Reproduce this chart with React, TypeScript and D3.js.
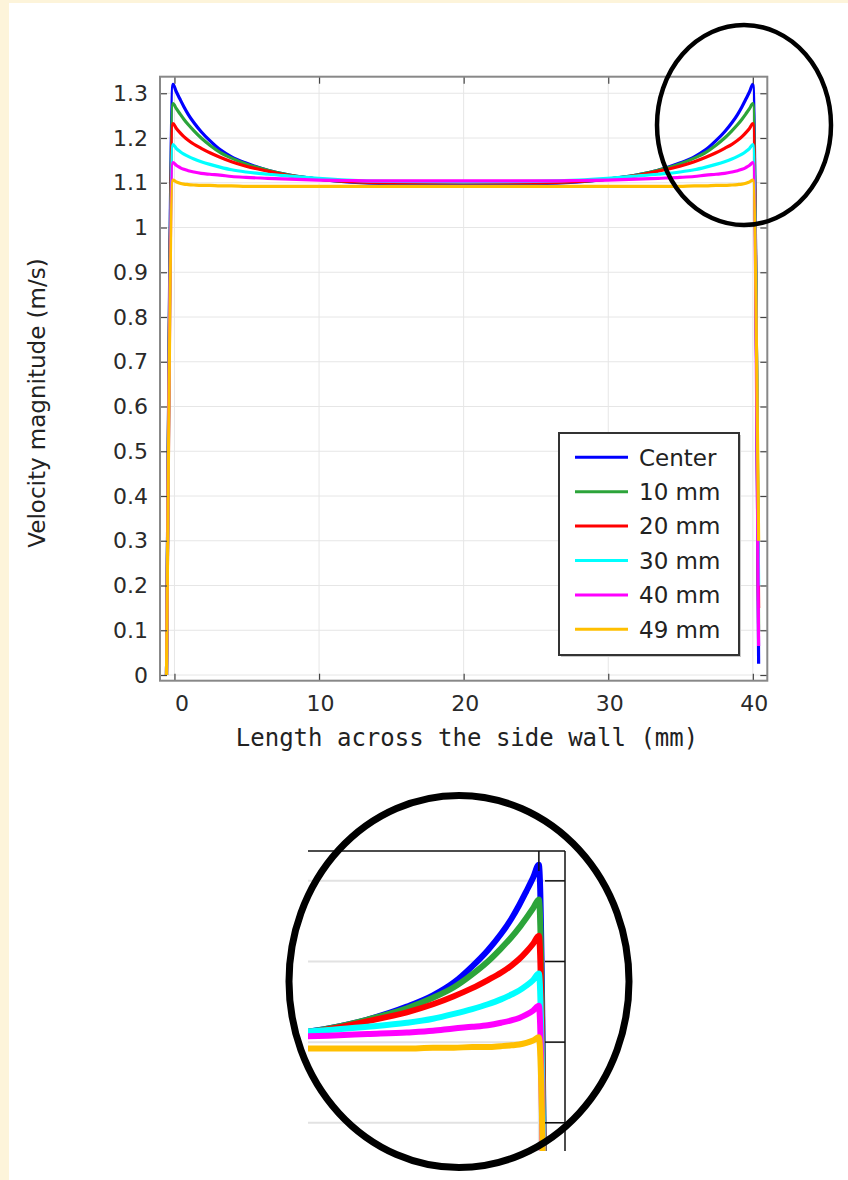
import React, { useEffect, useRef } from "react";
import * as d3 from "d3";

// positions along the wall (mm), shared by all series
const xPositions = [
  -0.55, -0.1, 0.12, 0.38, 0.65, 0.95, 1.35, 1.85, 2.45, 3.15, 3.95, 4.95, 6.45, 7.95, 9.95, 11.95, 14.95,
  20,
  24.95, 27.95, 29.95, 31.95, 33.45, 34.95, 35.95, 36.75, 37.45, 38.05, 38.55, 38.95, 39.25, 39.52, 39.78, 40,
  40.4,
];

const centerValues = [
  0, 1.32, 1.304, 1.287, 1.27, 1.253, 1.234, 1.214, 1.194, 1.174, 1.158, 1.144, 1.128, 1.117, 1.108, 1.102, 1.098,
  1.097,
  1.098, 1.102, 1.108, 1.117, 1.128, 1.144, 1.158, 1.174, 1.194, 1.214, 1.234, 1.253, 1.27, 1.287, 1.304, 1.32,
  0.025,
];
const mm10Values = [
  0, 1.277, 1.266, 1.254, 1.242, 1.23, 1.216, 1.2, 1.184, 1.168, 1.155, 1.142, 1.128, 1.117, 1.108, 1.103, 1.1,
  1.1,
  1.1, 1.103, 1.108, 1.117, 1.128, 1.142, 1.155, 1.168, 1.184, 1.2, 1.216, 1.23, 1.242, 1.254, 1.266, 1.277,
  0.1,
];
const mm20Values = [
  0, 1.232, 1.222, 1.212, 1.203, 1.195, 1.186, 1.177, 1.167, 1.157, 1.147, 1.137, 1.126, 1.116, 1.108, 1.103, 1.1,
  1.1,
  1.1, 1.103, 1.108, 1.116, 1.126, 1.137, 1.147, 1.157, 1.167, 1.177, 1.186, 1.195, 1.203, 1.212, 1.222, 1.232,
  0.15,
];
const mm30Values = [
  0, 1.185, 1.177, 1.17, 1.164, 1.159, 1.153, 1.147, 1.141, 1.135, 1.129, 1.124, 1.119, 1.115, 1.11, 1.106, 1.103,
  1.102,
  1.103, 1.106, 1.11, 1.115, 1.119, 1.124, 1.129, 1.135, 1.141, 1.147, 1.153, 1.159, 1.164, 1.17, 1.177, 1.185,
  0.2,
];
const mm40Values = [
  0, 1.145, 1.139, 1.134, 1.13, 1.127, 1.124, 1.121, 1.119, 1.117, 1.114, 1.112, 1.11, 1.108, 1.106, 1.105, 1.104,
  1.104,
  1.104, 1.105, 1.106, 1.108, 1.11, 1.112, 1.114, 1.117, 1.119, 1.121, 1.124, 1.127, 1.13, 1.134, 1.139, 1.145,
  0.065,
];
const mm49Values = [
  0, 1.106, 1.102, 1.099, 1.097, 1.096, 1.095, 1.094, 1.094, 1.093, 1.093, 1.092, 1.092, 1.092, 1.092, 1.092, 1.092,
  1.092,
  1.092, 1.092, 1.092, 1.092, 1.092, 1.092, 1.093, 1.093, 1.094, 1.094, 1.095, 1.096, 1.097, 1.099, 1.102, 1.106,
  0.3,
];

const seriesNames = ["Center", "10 mm", "20 mm", "30 mm", "40 mm", "49 mm"];
const seriesColors = ["#0000ff", "#2ca43a", "#ff0000", "#00ffff", "#ff00ff", "#ffbf00"];
const seriesValues = [centerValues, mm10Values, mm20Values, mm30Values, mm40Values, mm49Values];

const yTicks = [0, 0.1, 0.2, 0.3, 0.4, 0.5, 0.6, 0.7, 0.8, 0.9, 1, 1.1, 1.2, 1.3];
const yTickLabels = ["0", "0.1", "0.2", "0.3", "0.4", "0.5", "0.6", "0.7", "0.8", "0.9", "1", "1.1", "1.2", "1.3"];
const xTicks = [0, 10, 20, 30, 40];
const insetYTicks = [1, 1.1, 1.2, 1.3];
const insetXTicks = [40];

const W = 848;
const H = 1180;

export default function App() {
  const ref = useRef<SVGSVGElement>(null);

  useEffect(() => {
    const svg = d3.select(ref.current);
    svg.selectAll("*").remove();

    const series = seriesNames.map((name, i) => ({
      name,
      color: seriesColors[i],
      points: xPositions.map((xv, j) => [xv, seriesValues[i][j]] as [number, number]),
    }));

    svg.append("rect").attr("width", W).attr("height", H).attr("fill", "#fdf4da");
    svg.append("rect").attr("x", 9).attr("y", 3).attr("width", W - 9).attr("height", H - 3).attr("fill", "#fff");

    const plot = { left: 160, right: 767.3, top: 76.7, bottom: 680.7 };
    const x = d3.scaleLinear().domain([-1, 41]).range([plot.left, plot.right]);
    const y = d3.scaleLinear().domain([-0.0127, 1.337]).range([plot.bottom, plot.top]);

    const defs = svg.append("defs");
    defs.append("clipPath").attr("id", "mainClip")
      .append("rect")
      .attr("x", plot.left).attr("y", plot.top)
      .attr("width", plot.right - plot.left).attr("height", plot.bottom - plot.top);

    // grid
    const grid = svg.append("g");
    grid.selectAll(".gy").data(yTicks).join("line")
      .attr("x1", plot.left).attr("x2", plot.right)
      .attr("y1", (d) => y(d)).attr("y2", (d) => y(d))
      .attr("stroke", "#e6e6e6").attr("stroke-width", 1);
    grid.selectAll(".gx").data(xTicks).join("line")
      .attr("y1", plot.top).attr("y2", plot.bottom)
      .attr("x1", (d) => x(d)).attr("x2", (d) => x(d))
      .attr("stroke", "#e6e6e6").attr("stroke-width", 1);

    // curves
    const line = d3.line<[number, number]>()
      .x((d) => x(d[0]))
      .y((d) => y(d[1]))
      .curve(d3.curveMonotoneX);

    svg.append("g").attr("clip-path", "url(#mainClip)")
      .selectAll("path").data(series).join("path")
      .attr("d", (d) => line(d.points))
      .attr("fill", "none")
      .attr("stroke", (d) => d.color)
      .attr("stroke-width", 3.2)
      .attr("stroke-linejoin", "round");

    // axes (ticks inward)
    const styleAxis = (g) => {
      g.select(".domain").remove();
      g.selectAll(".tick line").attr("stroke", "#444").attr("stroke-width", 1.2);
      g.selectAll("text")
        .attr("fill", "#2a2a2a")
        .attr("font-family", "DejaVu Sans, sans-serif")
        .attr("font-size", 22);
    };

    svg.append("g")
      .attr("transform", `translate(${plot.left},0)`)
      .call(d3.axisLeft(y).tickValues(yTicks).tickFormat((d, i) => yTickLabels[i]).tickSize(-7).tickPadding(12))
      .call(styleAxis);

    svg.append("g")
      .attr("transform", `translate(0,${plot.bottom})`)
      .call(d3.axisBottom(x).tickValues(xTicks).tickFormat((d) => String(d)).tickSize(-7).tickPadding(15))
      .call(styleAxis)
      .call((g) => g.selectAll("text").attr("dx", (d) => (d === 0 ? 7 : 1)));

    svg.append("g")
      .attr("transform", `translate(${plot.right},0)`)
      .call(d3.axisRight(y).tickValues(yTicks).tickFormat(() => "").tickSize(-7))
      .call(styleAxis);

    svg.append("g")
      .attr("transform", `translate(0,${plot.top})`)
      .call(d3.axisTop(x).tickValues(xTicks).tickFormat(() => "").tickSize(-7))
      .call(styleAxis);

    svg.append("rect")
      .attr("x", plot.left).attr("y", plot.top)
      .attr("width", plot.right - plot.left).attr("height", plot.bottom - plot.top)
      .attr("fill", "none").attr("stroke", "#888").attr("stroke-width", 2);

    // axis titles
    svg.append("text")
      .attr("x", 467).attr("y", 746)
      .attr("text-anchor", "middle")
      .attr("font-family", "DejaVu Sans Mono, monospace")
      .attr("font-size", 24)
      .attr("fill", "#222")
      .text("Length across the side wall (mm)");

    svg.append("text")
      .attr("transform", "translate(45,403) rotate(-90)")
      .attr("text-anchor", "middle")
      .attr("font-family", "DejaVu Sans, sans-serif")
      .attr("font-size", 23)
      .attr("fill", "#222")
      .text("Velocity magnitude (m/s)");

    // legend
    const legend = svg.append("g").attr("transform", "translate(559,433)");
    legend.append("rect")
      .attr("x", 2).attr("y", 2).attr("width", 180).attr("height", 222)
      .attr("fill", "#c8c8c8");
    legend.append("rect")
      .attr("width", 180).attr("height", 222)
      .attr("fill", "#fff").attr("stroke", "#333").attr("stroke-width", 2);
    const items = legend.selectAll(".item").data(series).join("g")
      .attr("transform", (d, i) => `translate(0,${24.3 + i * 34.4})`);
    items.append("line")
      .attr("x1", 16).attr("x2", 69)
      .attr("stroke", (d) => d.color).attr("stroke-width", 3);
    items.append("text")
      .attr("x", 80).attr("dy", "0.36em")
      .attr("font-family", "DejaVu Sans, sans-serif")
      .attr("font-size", 23)
      .attr("fill", "#222")
      .text((d) => d.name);

    // magnified inset of the top-right corner
    const inset = { left: 308, right: 565, top: 851, bottom: 1151 };
    const xi = d3.scaleLinear().domain([31.17, 41]).range([inset.left, inset.right]);
    const yi = d3.scaleLinear().domain([0.965, 1.337]).range([inset.bottom, inset.top]);

    defs.append("clipPath").attr("id", "insetClip")
      .append("rect")
      .attr("x", inset.left).attr("y", inset.top)
      .attr("width", inset.right - inset.left).attr("height", inset.bottom - inset.top);

    const ig = svg.append("g");
    ig.selectAll(".igy").data(insetYTicks).join("line")
      .attr("x1", inset.left).attr("x2", inset.right)
      .attr("y1", (d) => yi(d)).attr("y2", (d) => yi(d))
      .attr("stroke", "#e2e2e2").attr("stroke-width", 2);
    ig.selectAll(".igx").data(insetXTicks).join("line")
      .attr("y1", inset.top).attr("y2", inset.bottom)
      .attr("x1", (d) => xi(d)).attr("x2", (d) => xi(d))
      .attr("stroke", "#e2e2e2").attr("stroke-width", 2);

    const lineInset = d3.line<[number, number]>()
      .x((d) => xi(d[0]))
      .y((d) => yi(d[1]))
      .curve(d3.curveMonotoneX);

    ig.append("g").attr("clip-path", "url(#insetClip)")
      .selectAll("path").data(series).join("path")
      .attr("d", (d) => lineInset(d.points))
      .attr("fill", "none")
      .attr("stroke", (d) => d.color)
      .attr("stroke-width", 6)
      .attr("stroke-linejoin", "round");

    ig.append("line")
      .attr("x1", inset.left).attr("x2", inset.right)
      .attr("y1", inset.top).attr("y2", inset.top)
      .attr("stroke", "#111").attr("stroke-width", 1.5);
    ig.append("line")
      .attr("x1", inset.right).attr("x2", inset.right)
      .attr("y1", inset.top).attr("y2", inset.bottom)
      .attr("stroke", "#111").attr("stroke-width", 1.5);
    ig.selectAll(".ity").data(insetYTicks).join("line")
      .attr("x1", inset.right - 20).attr("x2", inset.right)
      .attr("y1", (d) => yi(d)).attr("y2", (d) => yi(d))
      .attr("stroke", "#111").attr("stroke-width", 1.5);
    ig.selectAll(".itx").data(insetXTicks).join("line")
      .attr("y1", inset.top).attr("y2", inset.top + 20)
      .attr("x1", (d) => xi(d)).attr("x2", (d) => xi(d))
      .attr("stroke", "#111").attr("stroke-width", 1.5);

    // highlight ellipses
    svg.append("ellipse")
      .attr("cx", 744).attr("cy", 125).attr("rx", 87).attr("ry", 100)
      .attr("fill", "none").attr("stroke", "#000").attr("stroke-width", 4.5);
    svg.append("ellipse")
      .attr("cx", 459).attr("cy", 981.5).attr("rx", 170).attr("ry", 186)
      .attr("fill", "none").attr("stroke", "#000").attr("stroke-width", 7);
  }, []);

  return (
    <svg
      ref={ref}
      width={W}
      height={H}
      style={{ position: "absolute", left: 0, top: 0, display: "block" }}
    />
  );
}
